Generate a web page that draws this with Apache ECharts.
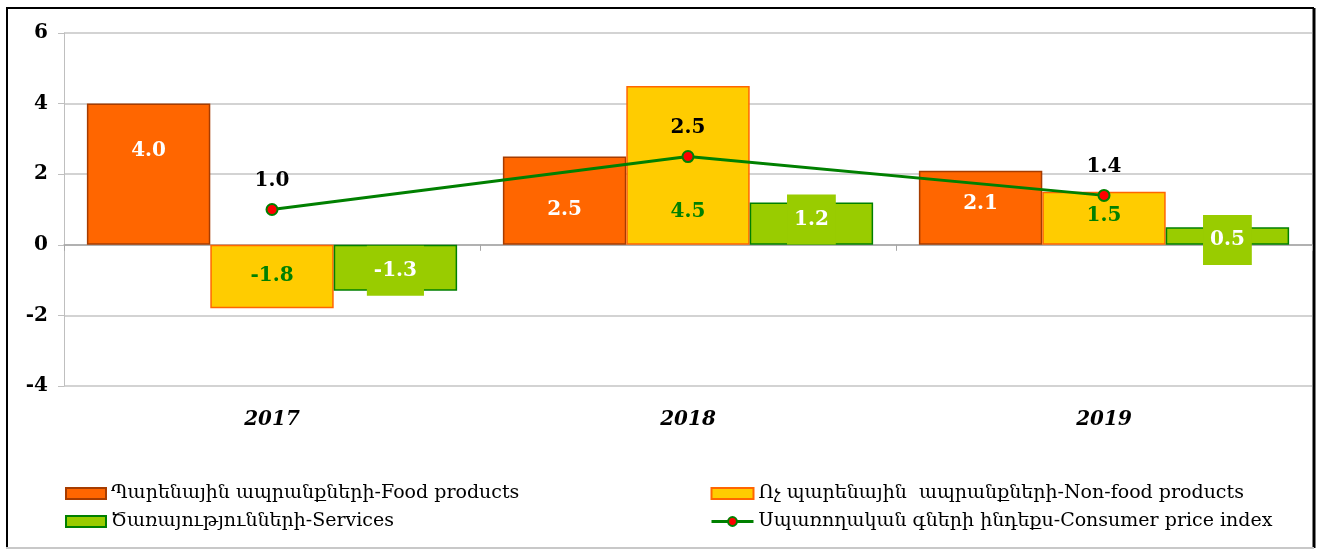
<!DOCTYPE html>
<html>
<head>
<meta charset="utf-8">
<script src="https://cdn.jsdelivr.net/npm/echarts@6/dist/echarts.min.js"></script>
<style>
  html, body { margin: 0; padding: 0; background: #fff; }
  #chart { width: 1318px; height: 550px; }
</style>
</head>
<body>
<div id="chart"></div>
<script>
var years = ["2017", "2018", "2019"]
var food = [4.0, 2.5, 2.1]
var nonFood = [-1.8, 4.5, 1.5]
var services = [-1.3, 1.2, 0.5]
var cpi = [1.0, 2.5, 1.4]
var yTicks = { min: -4, max: 6, step: 2 }

var names = [
  "Պարենային ապրանքների-Food products",
  "Ոչ պարենային  ապրանքների-Non-food products",
  "Ծառայությունների-Services",
  "Սպառողական գների ինդեքս-Consumer price index"
]

var serif = "DejaVu Serif, DejaVu Sans, serif"

// label offsets, hand placed like in the source chart
function withOffsets(values, offsets) {
  return values.map(function (v, i) {
    return { value: v, label: { offset: [0, offsets[i]] } }
  })
}

function fmt(p) { return p.value.toFixed(1) }

var chart = echarts.init(document.getElementById("chart"))

var legendText = { fontFamily: serif, fontSize: 19, color: "#000" }

var option = {
  animation: false,
  textStyle: { fontFamily: serif },
  graphic: [
    { type: "line", shape: { x1: 6, y1: 8, x2: 1314, y2: 8 }, style: { stroke: "#000", lineWidth: 2 } },
    { type: "line", shape: { x1: 7, y1: 8, x2: 7, y2: 548 }, style: { stroke: "#000", lineWidth: 2 } },
    { type: "line", shape: { x1: 1314, y1: 8, x2: 1314, y2: 548 }, style: { stroke: "#000", lineWidth: 3 } },
    { type: "line", shape: { x1: 6, y1: 548, x2: 1314, y2: 548 }, style: { stroke: "#c8c8c8", lineWidth: 2 } }
  ],
  grid: { left: 64, right: 6, top: 33, bottom: 164 },
  legend: [
    {
      left: 60, top: 479, orient: "vertical", itemGap: 9,
      itemWidth: 40, itemHeight: 11,
      textStyle: legendText,
      data: [{ name: names[0], icon: "rect" }, { name: names[2], icon: "rect" }]
    },
    {
      left: 705, top: 479, orient: "vertical", itemGap: 9,
      itemWidth: 42, itemHeight: 11,
      textStyle: legendText,
      data: [
        { name: names[1], icon: "rect" },
        { name: names[3], lineStyle: { width: 3, color: "#008000" } }
      ]
    }
  ],
  xAxis: [
    {
      type: "category", data: years,
      axisLine: { onZero: true, lineStyle: { color: "#a6a6a6", width: 1.5 } },
      axisTick: { show: true, length: 6, lineStyle: { color: "#a6a6a6" } },
      axisLabel: { show: false }
    },
    {
      type: "category", data: years, position: "bottom",
      axisLine: { show: false, onZero: false },
      axisTick: { show: false },
      axisLabel: {
        margin: 24, fontFamily: serif, fontSize: 20, fontWeight: "bold",
        fontStyle: "italic", color: "#000"
      }
    }
  ],
  yAxis: {
    type: "value", min: yTicks.min, max: yTicks.max, interval: yTicks.step,
    axisLine: { show: true, lineStyle: { color: "#bfbfbf" } },
    axisTick: { show: true, length: 6, lineStyle: { color: "#bfbfbf" } },
    axisLabel: { fontFamily: serif, fontSize: 20, fontWeight: "bold", color: "#000", margin: 16 },
    splitLine: { lineStyle: { color: "#c4c4c4", width: 1.5 } }
  },
  series: [
    {
      name: names[0], type: "bar", barGap: "0%", barCategoryGap: "11%",
      data: withOffsets(food, [-23, 9, -4]),
      itemStyle: { color: "#ff6600", borderColor: "#a63c00", borderWidth: 1.5 },
      label: {
        show: true, position: "inside", formatter: fmt,
        color: "#fff", fontSize: 20, fontWeight: "bold", fontFamily: serif
      }
    },
    {
      name: names[1], type: "bar",
      data: withOffsets(nonFood, [-1, 46, -3]),
      itemStyle: { color: "#ffcc00", borderColor: "#ff6600", borderWidth: 1.5 },
      label: {
        show: true, position: "inside", formatter: fmt,
        color: "#008000", fontSize: 20, fontWeight: "bold", fontFamily: serif
      }
    },
    {
      name: names[2], type: "bar",
      data: withOffsets(services, [3, -4, 4]),
      itemStyle: { color: "#99cc00", borderColor: "#008000", borderWidth: 1.5 },
      label: {
        show: true, position: "inside", formatter: fmt,
        color: "#fff", fontSize: 20, fontWeight: "bold", fontFamily: serif,
        backgroundColor: "#99cc00", padding: [15, 7]
      }
    },
    {
      name: names[3], type: "line", data: cpi,
      symbol: "circle", symbolSize: 11,
      lineStyle: { color: "#008000", width: 3 },
      itemStyle: { color: "#ff0000", borderColor: "#008000", borderWidth: 2 },
      label: {
        show: true, position: "top", distance: 12, formatter: fmt,
        color: "#000", fontSize: 20, fontWeight: "bold", fontFamily: serif
      },
      z: 5
    }
  ]
}

chart.setOption(option)
</script>
</body>
</html>
